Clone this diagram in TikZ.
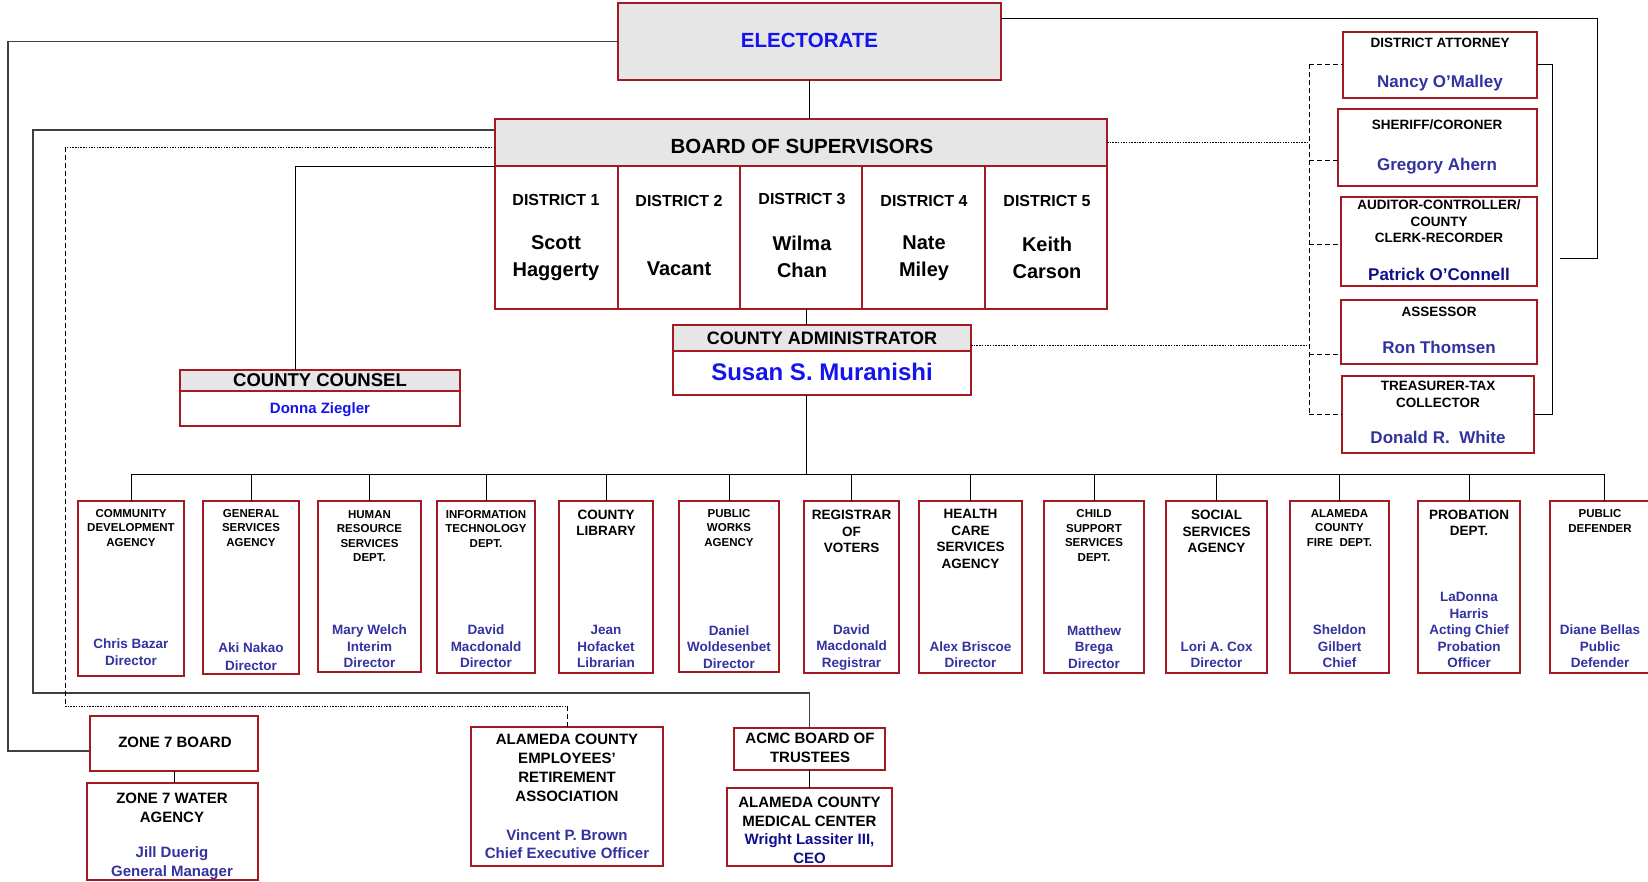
\documentclass[tikz,border=0pt]{standalone}
\usepackage{fontspec}
\setmainfont{Liberation Sans}
\usetikzlibrary{calc}
\definecolor{bord}{RGB}{165,25,35}
\definecolor{hdr}{RGB}{230,230,230}
\definecolor{blu}{RGB}{20,20,235}
\definecolor{nm}{RGB}{50,50,160}
\definecolor{nmd}{RGB}{15,15,140}
\newcommand\fs[2]{\fontsize{#1}{#2}\selectfont\bfseries}
\newcommand\B[6][]{\node[bx,#1,minimum width={(#4)-(#2)},minimum height={(#5)-(#3)}] (#6) at (#2,#3) {};}
\begin{document}
\begin{tikzpicture}[x=1pt,y=-1pt,
  bx/.style={draw=bord,line width=1.2pt,rectangle,inner sep=0pt,outer sep=0pt,anchor=north west},
  gbx/.style={bx,fill=hdr},
  tx/.style={inner sep=0pt,align=center,text=black},
  ttlS/.style={tx,font={\fs{11.5}{14.5}}},
  ttlL/.style={tx,font={\fs{13.5}{16.5}}},
  dnm/.style={tx,font={\fs{13.5}{16.5}},text=nm},
  rttl/.style={tx,font={\fs{13.5}{16.5}}},
  rnm/.style={tx,font={\fs{17}{20}},text=nm},
  btx/.style={tx,font={\fs{15}{19}}},
  bnm/.style={tx,font={\fs{15}{18}},text=nm},
  conn/.style={line width=0.9pt,black},
  heavy/.style={line width=1.6pt,black!75},
  dots/.style={line width=0.9pt,dash pattern=on 1.5pt off 1.2pt},
  dsh/.style={line width=0.8pt,dash pattern=on 5pt off 3pt},
]
\useasboundingbox (0,0) rectangle (1648,882);
\fill[white] (0,0) rectangle (1648,882);

% ---------- Electorate ----------
\B[gbx]{618}{3}{1001}{80}{ele}
\node[tx,font={\fs{20.5}{24}},text=blu] (tele) at (809.5,40) {ELECTORATE};

% ---------- Board of supervisors ----------
\B[gbx]{495}{119}{1107}{166}{bos}
\node[tx,font={\fs{20.5}{24}}] (tbos) at (802,146) {BOARD OF SUPERVISORS};
\B{495}{166}{618}{309}{d1}
\B{618}{166}{740}{309}{d2}
\B{740}{166}{862}{309}{d3}
\B{862}{166}{985}{309}{d4}
\B{985}{166}{1107}{309}{d5}
\node[tx,font={\fs{16}{19}}] (td1) at (556,200) {DISTRICT 1};
\node[tx,font={\fs{16}{19}}] (td2) at (679,201) {DISTRICT 2};
\node[tx,font={\fs{16}{19}}] (td3) at (802,199) {DISTRICT 3};
\node[tx,font={\fs{16}{19}}] (td4) at (924,201) {DISTRICT 4};
\node[tx,font={\fs{16}{19}}] (td5) at (1047,201) {DISTRICT 5};
\node[tx,font={\fs{20}{27}}] (nd1) at (556,258) {Scott\\Haggerty};
\node[tx,font={\fs{20}{27}}] (nd2) at (679,268.5) {Vacant};
\node[tx,font={\fs{20}{27}}] (nd3) at (802,257) {Wilma\\Chan};
\node[tx,font={\fs{20}{27}}] (nd4) at (924,258) {Nate\\Miley};
\node[tx,font={\fs{20}{27}}] (nd5) at (1047,257.5) {Keith\\Carson};

% ---------- County administrator ----------
\B{673}{325}{971}{395}{adm}
\B[gbx]{673}{325}{971}{351}{admh}
\node[tx,font={\fs{18}{21}}] (tadm) at (822,338) {COUNTY ADMINISTRATOR};
\node[tx,font={\fs{24}{28}},text=blu] (nadm) at (822,372) {Susan S. Muranishi};

% ---------- County counsel ----------
\B{180}{370}{460}{426}{cc}
\B[gbx]{180}{370}{460}{391}{cch}
\node[tx,font={\fs{18.5}{21}}] (tcc) at (320,380) {COUNTY COUNSEL};
\node[tx,font={\fs{15}{18}},text=blu] (ncc) at (320,410) {Donna Ziegler};

% ---------- Right column ----------
\B{1343}{32}{1537}{98}{da}
\node[rttl] (tda) at (1440,43) {DISTRICT ATTORNEY};
\node[rnm] (nda) at (1440,83) {Nancy O’Malley};
\B{1338}{109}{1537}{186}{sh}
\node[rttl] (tsh) at (1437,125) {SHERIFF/CORONER};
\node[rnm] (nsh) at (1437,166) {Gregory Ahern};
\B{1341}{197}{1537}{286}{au}
\node[rttl] (tau) at (1439,221.5) {AUDITOR-CONTROLLER/\\COUNTY\\CLERK-RECORDER};
\node[rnm,text=nmd] (nau) at (1439,274) {Patrick O’Connell};
\B{1341}{300}{1537}{364}{as}
\node[rttl] (tas) at (1439,312) {ASSESSOR};
\node[rnm] (nas) at (1439,347.5) {Ron Thomsen};
\B{1342}{376}{1534}{453}{tt}
\node[rttl] (ttt) at (1438,394.5) {TREASURER-TAX\\COLLECTOR};
\node[rnm] (ntt) at (1438,437) {Donald R.\ \ White};

% ---------- Departments ----------
\B{78}{501}{184}{676}{p1}
\node[ttlS] at (131,528) {COMMUNITY\\DEVELOPMENT\\AGENCY};
\node[dnm] at (131,652) {Chris Bazar\\Director};
\B{203}{501}{299}{674}{p2}
\node[ttlS] at (251,528) {GENERAL\\SERVICES\\AGENCY};
\node[dnm,font={\fs{13.5}{18}}] at (251,657) {Aki Nakao\\Director};
\B{318}{501}{421}{672}{p3}
\node[ttlS] at (369.5,536) {HUMAN\\RESOURCE\\SERVICES\\DEPT.};
\node[dnm] at (369.5,646.5) {Mary Welch\\Interim\\Director};
\B{437}{501}{535}{673}{p4}
\node[ttlS] at (486,528.5) {INFORMATION\\TECHNOLOGY\\DEPT.};
\node[dnm] at (486,646.5) {David\\Macdonald\\Director};
\B{559}{501}{653}{673}{p5}
\node[ttlL] at (606,523) {COUNTY\\LIBRARY};
\node[dnm] at (606,646.5) {Jean\\Hofacket\\Librarian};
\B{679}{501}{779}{672}{p6}
\node[ttlS] at (729,528) {PUBLIC\\WORKS\\AGENCY};
\node[dnm] at (729,647) {Daniel\\Woldesenbet\\Director};
\B{804}{501}{899}{673}{p7}
\node[ttlL] at (851.5,531.5) {REGISTRAR\\OF\\VOTERS};
\node[dnm] at (851.5,647.5) {David\\Macdonald\\Registrar};
\B{919}{501}{1022}{673}{p8}
\node[ttlL] at (970.5,539) {HEALTH\\CARE\\SERVICES\\AGENCY};
\node[dnm] at (970.5,654.5) {Alex Briscoe\\Director};
\B{1044}{501}{1144}{673}{p9}
\node[ttlS] at (1094,535.5) {CHILD\\SUPPORT\\SERVICES\\DEPT.};
\node[dnm] at (1094,647) {Matthew\\Brega\\Director};
\B{1166}{501}{1267}{673}{p10}
\node[ttlL] at (1216.5,531.5) {SOCIAL\\SERVICES\\AGENCY};
\node[dnm] at (1216.5,654.5) {Lori A. Cox\\Director};
\B{1290}{501}{1389}{673}{p11}
\node[ttlS] at (1339.5,528) {ALAMEDA\\COUNTY\\FIRE\ \ DEPT.};
\node[dnm] at (1339.5,646.5) {Sheldon\\Gilbert\\Chief};
\B{1418}{501}{1520}{673}{p12}
\node[ttlL] at (1469,523) {PROBATION\\DEPT.};
\node[dnm] at (1469,630) {LaDonna\\Harris\\Acting Chief\\Probation\\Officer};
\B{1550}{501}{1658}{673}{p13}
\node[ttlS] at (1600,521) {PUBLIC\\DEFENDER};
\node[dnm] at (1600,646.5) {Diane Bellas\\Public\\Defender};

% ---------- Bottom boxes ----------
\B{90}{716}{258}{771}{zb}
\node[btx] (tzb) at (175,742) {ZONE 7 BOARD};
\B{87}{783}{258}{880}{zw}
\node[btx] (tzw) at (172,807.5) {ZONE 7 WATER\\AGENCY};
\node[bnm,font={\fs{15}{19}}] (nzw) at (172,863.5) {Jill Duerig\\General Manager};
\B{471}{727}{663}{866}{ret}
\node[btx] (tret) at (567,768) {ALAMEDA COUNTY\\EMPLOYEES’\\RETIREMENT\\ASSOCIATION};
\node[bnm] (nret) at (567,844) {Vincent P. Brown\\Chief Executive Officer};
\B{734}{728}{885}{770}{acb}
\node[btx] (tacb) at (810,747.5) {ACMC BOARD OF\\TRUSTEES};
\B{727}{788}{892}{866}{med}
\node[tx,font={\fs{15}{18.5}}] (tmed) at (809.5,830.5) {ALAMEDA COUNTY\\MEDICAL CENTER\\\textcolor{nmd}{Wright Lassiter III,}\\\textcolor{nmd}{CEO}};

% ---------- Connectors ----------
\coordinate (bus) at (806,474);
\coordinate (erT) at (1597,18);
\coordinate (erB) at (1597,258);
\coordinate (erEnd) at (1560,258);
\coordinate (elL) at (8,41.5);
\coordinate (bsL) at (33,693);
\coordinate (bdL) at (65,706);
\coordinate (rbr) at (1552,64);
\coordinate (lbr) at (1309,64);
\coordinate (lbrB) at (1309,414);

% electorate
\draw[conn] (ele.south) -- (ele.south |- bos.north);
\draw[conn] (ele.north east |- erT) -- (erT) -- (erB) -- (erEnd);
\draw[heavy] (ele.west) -- (elL) |- ([yshift=-7.5pt]zb.west);
% board
\draw[conn] ([xshift=5pt]d3.south) -- ([xshift=5pt]d3.south |- adm.north);
\draw[heavy] ([yshift=12.5pt]bos.west) -| (bsL) -| (acb.north);
\draw[dots] ([yshift=-4.5pt]bos.west) -- ([yshift=-4.5pt]bos.west -| bdL);
\draw[dsh] ([yshift=-4.5pt]bos.west -| bdL) -- (bdL);
\draw[dots] (bdL) -- (bdL -| ret.north);
\draw[dsh] (bdL -| ret.north) -- (ret.north);
\draw[conn] (d1.north west) -| ([xshift=-25pt]cch.north);
\draw[dots] (bos.east) -- (bos.east -| lbr);
% right bracket (dashed)
\draw[dsh] (lbr) -- (lbrB);
\draw[dsh] (lbr) -- (lbr -| da.west);
\draw[dsh] ([yshift=-12.5pt]sh.west -| lbr) -- ([yshift=-12.5pt]sh.west);
\draw[dsh] ([yshift=-2.5pt]au.west -| lbr) -- ([yshift=-2.5pt]au.west);
\draw[dsh] ([yshift=-22pt]as.west -| lbr) -- ([yshift=-22pt]as.west);
\draw[dsh] (lbrB) -- (lbrB -| tt.west);
% right bracket (solid)
\draw[conn] (da.east |- rbr) -- (rbr) -- (rbr |- tt.east) -- (tt.east);
% administrator
\draw[dots] ([yshift=15pt]adm.east) -- ([yshift=15pt]adm.east -| lbr);
\draw[conn] (adm.south -| bus) -- (bus);
\draw[conn] (p1.north |- bus) -- (p13.north |- bus);
\foreach \i in {1,...,13} { \draw[conn] (p\i.north |- bus) -- (p\i.north); }
% bottom
\draw[conn] (zb.south) -- (zb.south |- zw.north);
\draw[conn] (acb.south) -- (med.north);
\end{tikzpicture}
\end{document}
